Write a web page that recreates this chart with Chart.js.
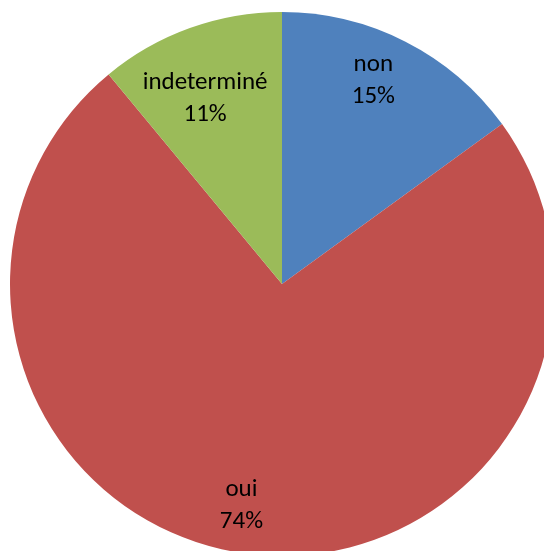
<!DOCTYPE html>
<html lang="fr">
  <head>
    <meta charset="UTF-8" />
    <title>Répartition</title>
    <script src="https://cdn.jsdelivr.net/npm/chart.js"></script>
    <style>
      html, body { margin: 0; padding: 0; background: #fff; overflow: hidden; }
      body { width: 544px; height: 551px; position: relative; }
      #wrap { position: absolute; left: 10px; top: 12px; width: 544px; height: 544px; }
    </style>
  </head>
  <body>
    <div id="wrap"><canvas id="graficoPie"></canvas></div>

    <script>
      // données
      const categories = ["non", "oui", "indeterminé"]
      const valeurs = [15, 74, 11]
      const couleurs = ["#4F81BD", "#C0504D", "#9BBB59"]

      // décalage des étiquettes (px) par rapport au point à 78% du rayon
      const decalages = [[-5, -14], [-14, 11], [-5, 14]]

      const etiquettes = {
        id: "etiquettes",
        afterDatasetsDraw(chart) {
          const ctx = chart.ctx
          const meta = chart.getDatasetMeta(0)
          const total = valeurs.reduce(function (a, b) { return a + b }, 0)
          ctx.save()
          ctx.fillStyle = "#000"
          ctx.font = "25px Carlito, Calibri, Lato, sans-serif"
          ctx.textAlign = "center"
          ctx.textBaseline = "middle"
          for (let i = 0; i < meta.data.length; i++) {
            const arc = meta.data[i]
            const mid = (arc.startAngle + arc.endAngle) / 2
            const r = arc.outerRadius * 0.78
            const x = arc.x + Math.cos(mid) * r + decalages[i][0]
            const y = arc.y + Math.sin(mid) * r + decalages[i][1]
            const pct = Math.round(valeurs[i] / total * 100) + "%"
            ctx.fillText(categories[i], x, y - 16)
            ctx.fillText(pct, x, y + 16)
          }
          ctx.restore()
        }
      }

      new Chart(document.getElementById("graficoPie").getContext("2d"), {
        type: "pie",
        data: {
          labels: categories,
          datasets: [{
            data: valeurs,
            backgroundColor: couleurs,
            borderWidth: 0
          }]
        },
        options: {
          responsive: true,
          maintainAspectRatio: false,
          animation: false,
          layout: { padding: 0 },
          plugins: {
            legend: { display: false },
            tooltip: { enabled: false }
          }
        },
        plugins: [etiquettes]
      })
    </script>
  </body>
</html>
